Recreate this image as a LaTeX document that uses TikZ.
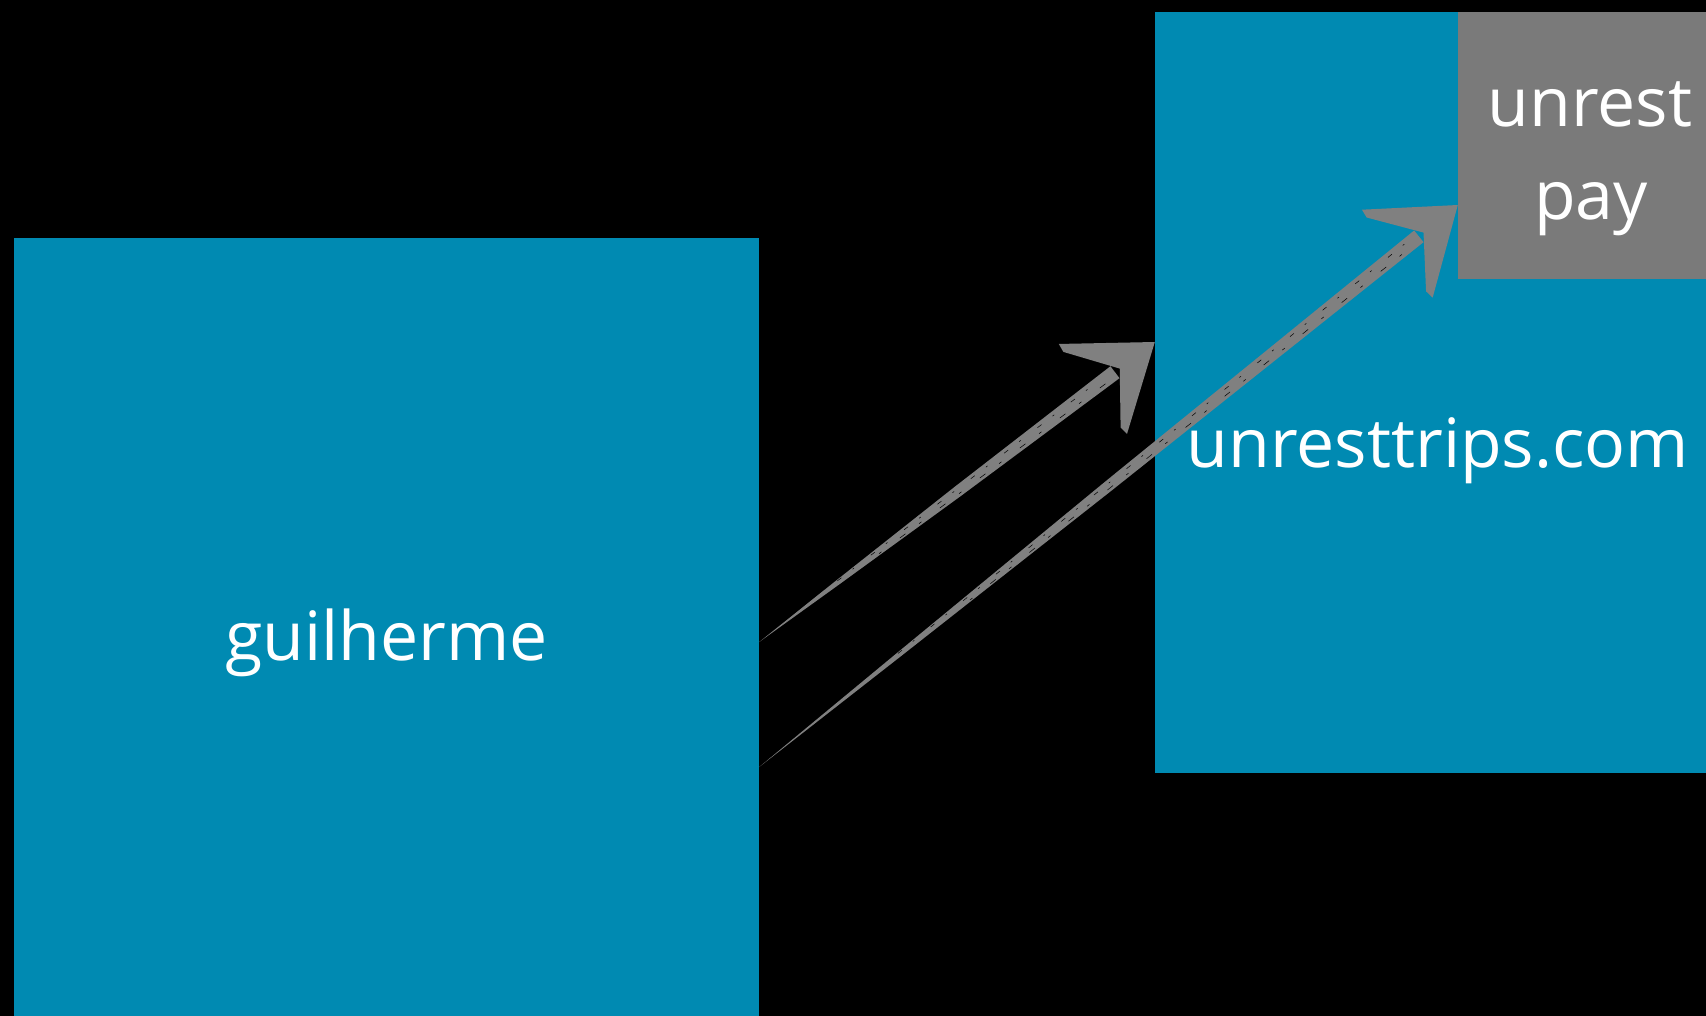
\documentclass[tikz,border=0pt]{standalone}
\usepackage{fontspec}
\usetikzlibrary{calc}
\newfontfamily\labelfont{Open Sans}
\definecolor{tripblue}{RGB}{0,138,178}
\definecolor{boxgray}{RGB}{122,122,122}
\definecolor{arrowgray}{RGB}{128,128,128}

% hand-drawn style arrow: tapered shaft from #1, dart head at #2
\newcommand\sketcharrow[2]{%
  \fill[arrowgray] (#1)
    -- ($(#1)!0.2!(#2)!2.5pt!90:(#2)$)
    -- ($(#1)!0.5!(#2)!5.5pt!90:(#2)$)
    -- ($(#2)!50pt!(#1)!7.5pt!-90:(#1)$)
    -- ($(#2)!50pt!(#1)!7.5pt!90:(#1)$)
    -- ($(#1)!0.5!(#2)!5.5pt!-90:(#2)$)
    -- ($(#1)!0.2!(#2)!2.5pt!-90:(#2)$) -- cycle;
  \fill[arrowgray] (#2)
    -- ($(#2)!96pt!36:(#1)$) -- ($(#2)!92pt!31:(#1)$)
    -- ($(#2)!44pt!(#1)$)
    -- ($(#2)!92pt!-31:(#1)$) -- ($(#2)!96pt!-36:(#1)$) -- cycle;
  \draw[black, line width=0.5pt, dash pattern=on 5pt off 14pt on 2pt off 21pt]
    ($(#1)!0.2!(#2)!1.5pt!90:(#2)$) -- ($(#2)!62pt!(#1)!3pt!-90:(#1)$);
  \draw[black, line width=0.5pt, dash pattern=on 3pt off 23pt on 7pt off 17pt]
    ($(#1)!0.3!(#2)!2pt!-90:(#2)$) -- ($(#2)!60pt!(#1)!3.5pt!90:(#1)$);
}

\begin{document}
\begin{tikzpicture}[x=1pt, y=-1pt,
  panel/.style={rectangle, draw=none, inner sep=0pt},
  caption/.style={text=white, font=\labelfont\fontsize{68}{80}\selectfont,
                  inner sep=0pt, anchor=base}]
  \fill[black] (0,0) rectangle (1706,1016);
  \useasboundingbox (0,0) rectangle (1706,1016);

  % blocks
  \node[panel, fill=tripblue, minimum width=745pt, minimum height=778pt] (guil) at (386.5,627) {};
  \node[panel, fill=tripblue, minimum width=551pt, minimum height=761pt] (site) at (1430.5,392.5) {};
  \node[panel, fill=boxgray, minimum width=248pt, minimum height=267pt] (pay) at (1582,145.5) {};

  % arrow ends
  \coordinate (a1tail) at (guil.east |- 0,642);
  \coordinate (a1tip)  at (site.west |- 0,342);
  \coordinate (a2tail) at (guil.east |- 0,767);
  \coordinate (a2tip)  at (pay.west |- 0,205);

  \sketcharrow{a1tail}{a1tip}
  \sketcharrow{a2tail}{a2tip}

  % labels
  \node[caption] (guil-text) at (386.5,660) {guilherme};
  \node[caption] (site-text) at (1438,467) {unresttrips.com};
  \node[caption] (pay-text1) at (1590,127) {unrest};
  \node[caption] (pay-text2) at (1591,220) {pay};
\end{tikzpicture}
\end{document}
